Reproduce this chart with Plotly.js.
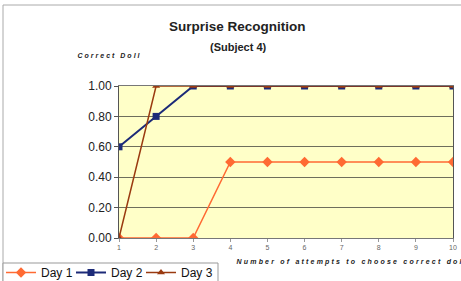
<!DOCTYPE html>
<html><head><meta charset="utf-8">
<script src="https://cdn.plot.ly/plotly-3.0.1.min.js"></script>
<style>body{margin:0;background:#fff}#c{width:461px;height:281px}</style>
</head><body><div id="c"></div>
<script>
const attempts = [1,2,3,4,5,6,7,8,9,10];
const day1 = [0,0,0,0.5,0.5,0.5,0.5,0.5,0.5,0.5];
const day2 = [0.6,0.8,1,1,1,1,1,1,1,1];
const day3 = [0,1,1,1,1,1,1,1,1,1];
const yTicks = [0,0.2,0.4,0.6,0.8,1.0];
const yTickText = ['0.00','0.20','0.40','0.60','0.80','1.00'];

const L=119, R=8, T=86, B=43, W=461, H=281;
const pw=W-L-R, ph=H-T-B;
const px = x => (x-L)/pw;
const py = y => (H-B-y)/ph;

const traces = [
  {x:attempts,y:day1,name:'Day 1',mode:'lines+markers',line:{color:'#FF6A33',width:1.5},marker:{symbol:'diamond',size:8,color:'#FF6A33'}},
  {x:attempts,y:day2,name:'Day 2',mode:'lines+markers',line:{color:'#1C2A78',width:2},marker:{symbol:'square',size:7,color:'#1C2A78'}},
  {x:attempts,y:day3,name:'Day 3',mode:'lines+markers',line:{color:'#9A3A10',width:1.5},marker:{symbol:'triangle-up',size:7,color:'#9A3A10'}}
];
const font='"Liberation Sans", Arial, sans-serif';
const layout = {
  width:W,height:H,margin:{l:L,r:R,t:T,b:B,autoexpand:false},
  paper_bgcolor:'#fff',plot_bgcolor:'#FFFFC8',
  font:{family:font,color:'#111'},
  showlegend:true,
  legend:{orientation:'h',x:px(1),y:py(258),xanchor:'left',yanchor:'top',
    bgcolor:'rgba(0,0,0,0)',borderwidth:0,font:{size:12,family:font,color:'#111'},
    itemwidth:30,entrywidth:25,entrywidthmode:'pixels',tracegroupgap:0},
  xaxis:{range:[1,10],tickvals:attempts,ticktext:attempts.map(String),showgrid:false,zeroline:false,automargin:false,
    showline:true,linecolor:'#777',linewidth:1,mirror:true,ticks:'outside',ticklen:3,tickcolor:'#999',
    tickfont:{size:7,color:'#666'}},
  yaxis:{range:[0,1],tickvals:yTicks,ticktext:yTickText,showgrid:true,gridcolor:'#6E6E5C',gridwidth:1,automargin:false,
    zeroline:false,showline:true,linecolor:'#555',linewidth:1,mirror:true,ticks:'outside',ticklen:4,tickcolor:'#555',
    tickfont:{size:12,color:'#222'}},
  annotations:[
    {text:'<b>Surprise Recognition</b>',xref:'paper',yref:'paper',x:px(237),y:py(26),xanchor:'center',yanchor:'middle',showarrow:false,font:{size:13.5,family:font,color:'#222'}},
    {text:'<b>(Subject 4)</b>',xref:'paper',yref:'paper',x:px(238),y:py(47),xanchor:'center',yanchor:'middle',showarrow:false,font:{size:11,family:font,color:'#222'}},
    {text:'<b><i>Correct Doll</i></b>',xref:'paper',yref:'paper',x:px(76),y:py(55),xanchor:'left',yanchor:'middle',showarrow:false,font:{size:7,family:font,color:'#222'}},
    {text:'<b><i>Number of attempts to choose correct doll</i></b>',xref:'paper',yref:'paper',x:px(235),y:py(262),xanchor:'left',yanchor:'middle',showarrow:false,font:{size:7,family:font,color:'#222'}}
  ],
  shapes:[
    {type:'rect',xref:'paper',yref:'paper',x0:px(3),x1:px(470),y0:py(5),y1:py(290),line:{color:'#aaa',width:1},layer:'below'},
    {type:'rect',xref:'paper',yref:'paper',x0:px(3),x1:px(218),y0:py(263),y1:py(290),line:{color:'#999',width:1},fillcolor:'#fff',layer:'above'}
  ]
};
Plotly.newPlot('c',traces,layout,{staticPlot:true}).then(()=>{
  document.querySelectorAll('.legend [clip-path]').forEach(e=>e.removeAttribute('clip-path'));
  document.querySelectorAll('.annotation-text').forEach(t=>{
    const s=t.textContent;
    let sp=0;
    if(s.startsWith('Correct')) sp=2.0;
    if(s.startsWith('Number')) sp=2.2;
    if(sp){
      const w0=t.getBBox().width;
      t.style.letterSpacing=sp+'px';
      const w1=t.getBBox().width;
      t.setAttribute('transform','translate('+((w1-w0)/2)+',0)');
    }
  });
});
</script></body></html>
